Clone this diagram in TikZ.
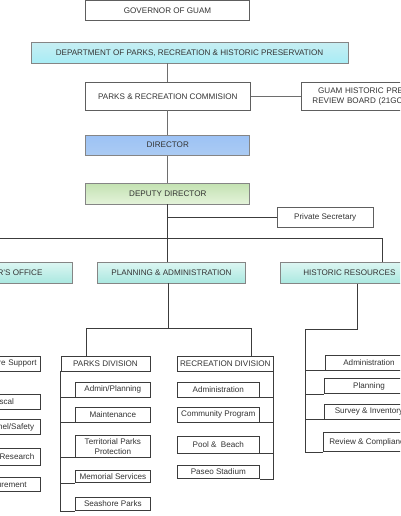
\documentclass[tikz,border=0pt]{standalone}
\usepackage{fontspec}
\setmainfont{Liberation Sans}
\definecolor{txt}{HTML}{333333}
\definecolor{bordA}{HTML}{5E5E5E}
\definecolor{bordB}{HTML}{858585}
\definecolor{bordC}{HTML}{3C3C3C}
\definecolor{lineA}{HTML}{6E6E6E}
\definecolor{lineB}{HTML}{3C3C3C}
\definecolor{deptT}{HTML}{C6EEF3}
\definecolor{deptB}{HTML}{A8EDF5}
\definecolor{dirT}{HTML}{9CC2F5}
\definecolor{dirB}{HTML}{ABCBF3}
\definecolor{depT}{HTML}{C4E2B3}
\definecolor{depB}{HTML}{E4F3DA}
\definecolor{divT}{HTML}{DCF6F2}
\definecolor{divB}{HTML}{AAE8E0}
\begin{document}
\begin{tikzpicture}[x=1pt,y=-1pt,
  every node/.style={font=\fontsize{8.1}{10}\selectfont, text=txt, inner sep=0pt, align=center},
  wbox/.style={draw=bordA, fill=white, line width=0.8pt},
  cbox/.style={draw=bordB, line width=0.8pt},
  sbox/.style={draw=bordC, fill=white, line width=0.7pt},
  topline/.style={draw=lineA, line width=0.9pt},
  lowline/.style={draw=lineB, line width=0.75pt}]
\useasboundingbox (0,0) rectangle (400,516);
\fill[white] (0,0) rectangle (400,516);
\clip (0,0) rectangle (400,516);

% upper levels
\node[wbox, minimum width=163.6pt, minimum height=20pt] (gov) at (167.5,10.8) {GOVERNOR OF GUAM};
\node[cbox, top color=deptT, bottom color=deptB, minimum width=317pt, minimum height=20.3pt] (dept) at (189.5,52.8) {DEPARTMENT OF PARKS, RECREATION \& HISTORIC PRESERVATION};
\node[wbox, minimum width=165pt, minimum height=27.3pt] (comm) at (167.8,96.3) {PARKS \& RECREATION COMMISION};
\node[wbox, anchor=west, minimum height=27.3pt, inner xsep=11pt, text width=170pt, align=left] (ghp) at (301,96.3) {\hspace*{5.7pt}GUAM HISTORIC PRESERVATION\\REVIEW BOARD (21GCA)};
\node[cbox, top color=dirT, bottom color=dirB, minimum width=164pt, minimum height=20.3pt] (dir) at (167.8,145.2) {DIRECTOR};
\node[cbox, top color=depT, bottom color=depB, minimum width=164pt, minimum height=20.3pt] (dep) at (167.8,193.9) {DEPUTY DIRECTOR};
\node[wbox, minimum width=95.7pt, minimum height=20.4pt] (ps) at (325.2,217.5) {Private Secretary};

\node[cbox, top color=divT, bottom color=divB, minimum width=141.7pt, minimum height=20.7pt] (off) at (1.85,272.7) {DIRECTOR'S OFFICE};
\node[cbox, top color=divT, bottom color=divB, minimum width=148.4pt, minimum height=20.7pt] (plan) at (171.5,272.7) {PLANNING \& ADMINISTRATION};
\node[cbox, top color=divT, bottom color=divB, minimum width=138.8pt, minimum height=20.6pt] (hist) at (349.4,273) {HISTORIC RESOURCES};

% upper connectors
\draw[topline] (comm.north) -- (comm.north |- dept.south);
\draw[topline] (comm.east) -- (ghp.west);
\draw[topline] (comm.south) -- (dir.north);
\draw[topline] (dir.south) -- (dep.north);
\draw[lineB, line width=0.8pt] (dep.south) -- (dep.south |- plan.north);
\draw[lineB, line width=0.8pt] (dep.south |- ps.west) -- (ps.west);
\coordinate (busL) at (-10,238);
\coordinate (busR) at (382.3,238);
\draw[lineB, line width=0.8pt] (busL |- off.north) -- (busL) -- (busR) -- (busR |- hist.north);

% left column (director's office)
\node[sbox, minimum height=14.3pt, inner xsep=4pt, text width=66.7pt, align=right] (ls1) at (3.35,363.85) {Software Support};
\node[sbox, minimum width=74.7pt, minimum height=15pt] (ls2) at (3.35,401.8) {Fiscal};
\node[sbox, minimum width=74.7pt, minimum height=15.4pt] (ls3) at (3.35,427) {Personnel/Safety};
\node[sbox, minimum height=16.7pt, inner xsep=6.4pt, text width=61.9pt, align=right] (ls4) at (3.35,456.65) {Research};
\node[sbox, minimum width=74.7pt, minimum height=13.3pt] (ls5) at (3.35,484.35) {Procurement};

% parks division
\node[sbox, minimum width=89pt, minimum height=15pt] (parks) at (105.5,363.5) {PARKS DIVISION};
\node[sbox, minimum width=74.3pt, minimum height=15pt] (pk1) at (112.85,389.5) {Admin/Planning};
\node[sbox, minimum width=74.3pt, minimum height=15pt] (pk2) at (112.85,414.8) {Maintenance};
\node[sbox, minimum width=74.3pt, minimum height=21.3pt] (pk3) at (112.85,446.35) {Territorial Parks\\Protection};
\node[sbox, minimum width=74.3pt, minimum height=12.7pt] (pk4) at (112.85,476.35) {Memorial Services};
\node[sbox, minimum width=74.3pt, minimum height=13.4pt] (pk5) at (112.85,504) {Seashore Parks};

% recreation division
\node[sbox, minimum width=96pt, minimum height=14.6pt] (rec) at (225.3,364) {RECREATION DIVISION};
\node[sbox, minimum width=82pt, minimum height=15pt] (rc1) at (218.3,389.8) {Administration};
\node[sbox, minimum width=82pt, minimum height=15pt] (rc2) at (218.3,414.8) {Community Program};
\node[sbox, minimum width=82pt, minimum height=17pt] (rc3) at (218.3,444.8) {Pool \&\ \ Beach};
\node[sbox, minimum width=82pt, minimum height=13.4pt] (rc4) at (218.3,472) {Paseo Stadium};

% historic resources
\node[sbox, minimum width=87.4pt, minimum height=14.6pt] (hs1) at (369,363) {Administration};
\node[sbox, minimum width=89.4pt, minimum height=15pt] (hs2) at (369,386.2) {Planning};
\node[sbox, minimum width=89.4pt, minimum height=15pt] (hs3) at (369,411.8) {Survey \& Inventory};
\node[sbox, minimum width=92pt, minimum height=19.4pt] (hs4) at (369,442) {Review \& Compliance};

% planning connectors
\coordinate (pbus) at (168.3,328.3);
\coordinate (pL) at (86.7,328.3);
\coordinate (pR) at (251.3,328.3);
\draw[lowline] (plan.south -| pbus) -- (pbus);
\draw[lowline] (pL |- parks.north) -- (pL) -- (pR) -- (pR |- rec.north);

\draw[lowline] (parks.south west) -- (parks.south west |- pk5.south) -- (pk5.south west);
\foreach \n in {pk1,pk2,pk3,pk4}
  \draw[lowline] (parks.south west |- \n.south) -- (\n.south west);

\draw[lowline] (rec.south east) -- (rec.south east |- rc4.south) -- (rc4.south east);
\foreach \n in {rc1,rc2,rc3}
  \draw[lowline] (rec.south east |- \n.south) -- (\n.south east);

% historic connectors
\coordinate (hbus) at (357.3,329);
\coordinate (hL) at (305.3,329);
\draw[lowline] (hist.south -| hbus) -- (hbus) -- (hL) -- (hL |- hs4.south) -- (hs4.south west);
\foreach \n in {hs1,hs2,hs3}
  \draw[lowline] (hL |- \n.south) -- (\n.south west);
\end{tikzpicture}
\end{document}
